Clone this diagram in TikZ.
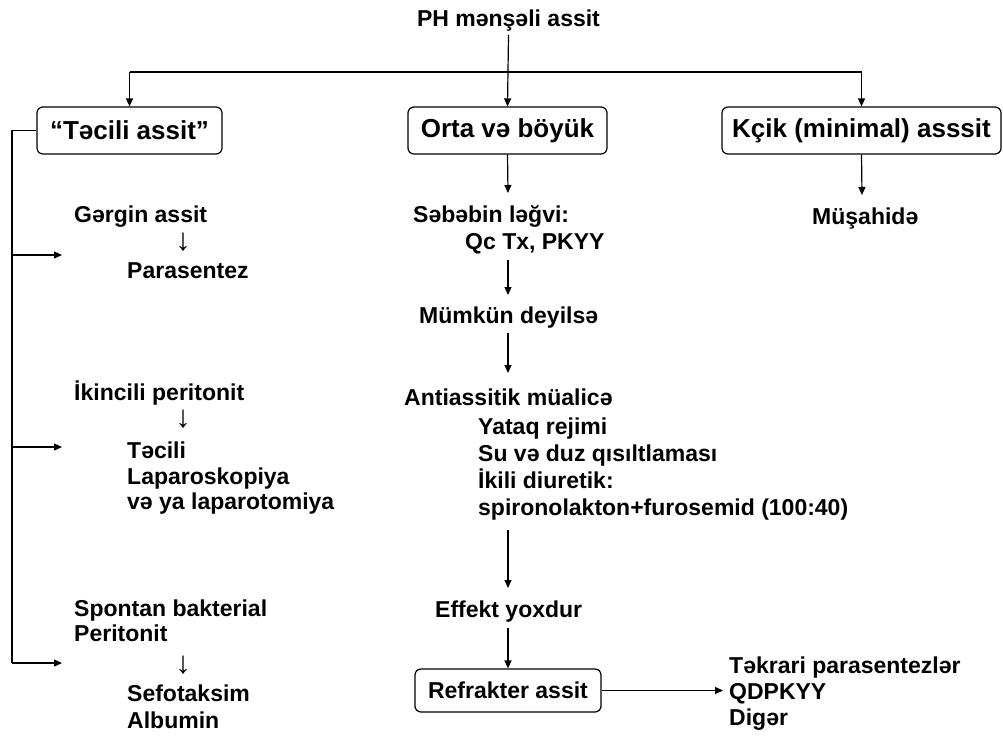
\documentclass[tikz,border=0pt]{standalone}
\usepackage{fontspec}
\setmainfont{Liberation Sans}
\usetikzlibrary{arrows.meta}
\tikzset{
  box/.style={draw, rounded corners=6pt, line width=1.2pt, font=\bfseries\fontsize{26}{30}\selectfont, inner sep=0pt, minimum height=47pt},
  sbox/.style={box, font=\bfseries\fontsize{23}{26}\selectfont, minimum height=43pt},
  txt/.style={anchor=base west, inner sep=0pt, font=\bfseries\fontsize{23}{26}\selectfont},
  dn/.style={anchor=center, inner sep=0pt, text height=8pt, text depth=0pt, font=\fontsize{31}{33}\selectfont},
  arr/.style={-{Triangle[length=8pt,width=7pt]}, line width=1.2pt},
  ln/.style={line width=1.2pt}
}
\begin{document}
\begin{tikzpicture}[x=1pt,y=-1pt]
\path[use as bounding box] (0,0) rectangle (1003,736);
% title and boxes
\node[txt, anchor=base] (title) at (508.5,27) {PH mənşəli assit};
\node[box, minimum width=185pt] (b1) at (129.5,130.5) {“Təcili assit”};
\node[box, minimum width=199pt] (b2) at (507.5,130.5) {Orta və böyük};
\node[box, minimum width=279pt] (b3) at (861.5,130.5) {Kçik (minimal) asssit};
\node[sbox, minimum width=186pt] (b4) at (508,690.5) {Refrakter assit};
% top connectors
\coordinate (hbar) at (508,72);
\draw[arr] (title.south) ++(0,3) -- (b2.north);
\draw[ln] (hbar -| b1.north) -- (hbar -| b3.north);
\draw[arr] (hbar -| b1.north) -- (b1.north);
\draw[arr] (hbar -| b3.north) -- (b3.north);
% left column
\node[txt] (gergin) at (74,222) {Gərgin assit};
\node[dn] (d1) at (183,246) {↓};
\node[txt] (paras) at (127,278) {Parasentez};
\node[txt] (ikinc) at (74,400) {İkincili peritonit};
\node[dn] (d2) at (183,423) {↓};
\node[txt] (tecili) at (127,458) {Təcili};
\node[txt] (lapar) at (127,484) {Laparoskopiya};
\node[txt] (veya) at (127,509) {və ya laparotomiya};
\node[txt] (spont) at (74,616) {Spontan bakterial};
\node[txt] (perit) at (74,641) {Peritonit};
\node[dn] (d3) at (183,669) {↓};
\node[txt] (sefo) at (127,701) {Sefotaksim};
\node[txt] (albu) at (127,728) {Albumin};
\coordinate (busx) at (12,0);
\coordinate (a1) at (62,255);
\coordinate (a2) at (62,447);
\coordinate (a3) at (62,663);
\draw[ln] (b1.west) -- (b1.west -| busx) -- (busx |- a3);
\draw[arr] (busx |- a1) -- (a1);
\draw[arr] (busx |- a2) -- (a2);
\draw[arr] (busx |- a3) -- (a3);
% middle column
\node[txt] (sebeb) at (413,222) {Səbəbin ləğvi:};
\node[txt] (qctx) at (465,249) {Qc Tx, PKYY};
\node[txt] (mumk) at (419,323) {Mümkün deyilsə};
\node[txt] (anti) at (404,405) {Antiassitik müalicə};
\node[txt] (yataq) at (478,434) {Yataq rejimi};
\node[txt] (su) at (478,461) {Su və duz qısıltlaması};
\node[txt] (ikili) at (478,488) {İkili diuretik:};
\node[txt] (spiro) at (478,515) {spironolakton+furosemid (100:40)};
\node[txt] (effekt) at (435,617) {Effekt yoxdur};
\coordinate (m1) at (508,193);
\coordinate (m2s) at (508,260);
\coordinate (m2e) at (508,295);
\coordinate (m3s) at (508,333);
\coordinate (m3e) at (508,373);
\coordinate (m4s) at (508,530);
\coordinate (m4e) at (508,588);
\coordinate (m5s) at (508,628);
\draw[arr] (b2.south) -- (m1);
\draw[arr] (m2s) -- (m2e);
\draw[arr] (m3s) -- (m3e);
\draw[arr] (m4s) -- (m4e);
\draw[arr] (m5s) -- (b4.north);
% right column
\node[txt] (musa) at (812,224) {Müşahidə};
\coordinate (r1) at (862,195);
\draw[arr] (b3.south) -- (r1);
\node[txt] (tekr) at (729,673) {Təkrari parasentezlər};
\node[txt] (qdp) at (729,699) {QDPKYY};
\node[txt] (diger) at (729,725) {Digər};
\coordinate (r2) at (723,690.5);
\draw[arr] (b4.east) -- (r2);
\end{tikzpicture}
\end{document}
